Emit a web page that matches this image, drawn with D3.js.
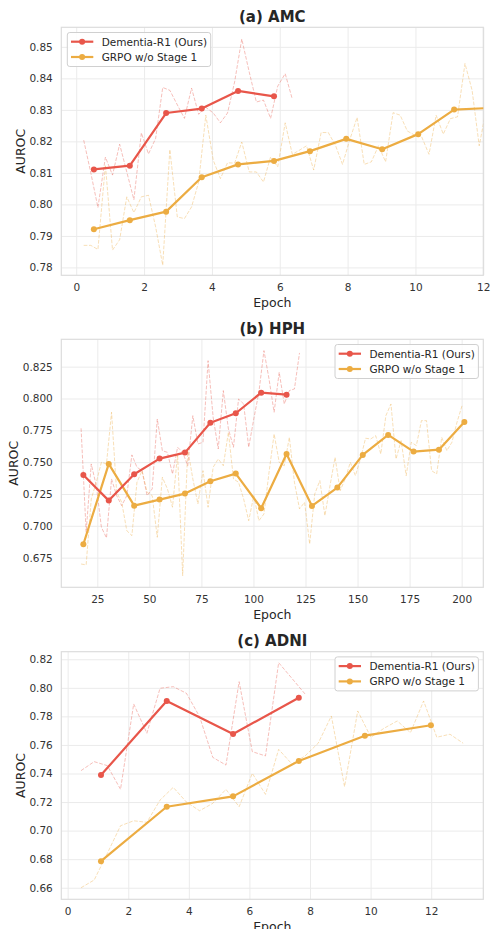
<!DOCTYPE html>
<html><head><meta charset="utf-8">
<script src="https://cdn.jsdelivr.net/npm/d3@7"></script>
<style>html,body{margin:0;padding:0;background:#fff;}svg{display:block;font-family:"DejaVu Sans",sans-serif;}</style>
</head><body>
<script>
// ---------- DATA ----------
const seriesNames = ["Dementia-R1 (Ours)", "GRPO w/o Stage 1"];

// (a) AMC
const amcRawEpoch = [0.22,0.43,0.64,0.86,1.07,1.28,1.49,1.70,1.92,2.13,2.34,2.55,2.76,2.98,3.19,3.40,3.61,3.82,4.04,4.25,4.46,4.67,4.88,5.10,5.31,5.52,5.73,5.94,6.16,6.37,6.58,6.79,7.00,7.22,7.43,7.64,7.85,8.06,8.28,8.49,8.70,8.91,9.12,9.34,9.55,9.76,9.97,10.18,10.40,10.61,10.82,11.03,11.24,11.46,11.67,11.88,12.09];
const amcOursRaw = [0.8204,0.8100,0.7990,0.8150,0.8093,0.8191,0.8103,0.8015,0.8227,0.8160,0.8209,0.8371,0.8362,0.8316,0.8273,0.8369,0.8286,0.8308,0.8290,0.8259,0.8290,0.8389,0.8525,0.8420,0.8325,0.8331,0.8273,0.8375,0.8415,0.8334];
const amcGrpoRaw = [0.7870,0.7870,0.7857,0.8125,0.7855,0.7888,0.8024,0.7974,0.8024,0.8029,0.7929,0.7807,0.8174,0.7960,0.7955,0.7992,0.8071,0.8283,0.8140,0.8082,0.8132,0.8131,0.8198,0.8103,0.8103,0.8071,0.8151,0.8119,0.8259,0.8159,0.8172,0.8186,0.8109,0.8228,0.8228,0.8188,0.8127,0.8204,0.8276,0.8127,0.8135,0.8186,0.8135,0.8291,0.8283,0.8233,0.8220,0.8215,0.8159,0.8283,0.8223,0.8272,0.8278,0.8447,0.8362,0.8186,0.8305];
const amcSmoothEpoch = [0.52,1.58,2.65,3.70,4.77,5.83,6.89,7.96,9.02,10.08,11.14,12.20];
const amcOursSmooth = [0.8111,0.8123,0.8290,0.8304,0.8360,0.8343];
const amcGrpoSmooth = [0.7921,0.7950,0.7977,0.8086,0.8127,0.8138,0.8169,0.8208,0.8175,0.8223,0.8301,0.8306];
const amcXTicks = [0,2,4,6,8,10,12];
const amcYTicks = [0.78,0.79,0.80,0.81,0.82,0.83,0.84,0.85];

// (b) HPH
const hphRawEpoch = [17.2,19.64,22.08,24.52,26.96,29.4,31.84,34.28,36.72,39.16,41.6,44.04,46.48,48.92,51.36,53.8,56.24,58.68,61.12,63.56,66.0,68.44,70.88,73.32,75.76,78.2,80.64,83.08,85.52,87.96,90.4,92.84,95.28,97.72,100.16,102.6,105.04,107.48,109.92,112.36,114.8,117.24,119.68,122.12,124.56,127.0,129.44,131.88,134.32,136.76,139.2,141.64,144.08,146.52,148.96,151.4,153.84,156.28,158.72,161.16,163.6,166.04,168.48,170.92,173.36,175.8,178.24,180.68,183.12,185.56,188.0,190.44,192.88,195.32,197.76,200.2];
const hphOursRaw = [0.7766,0.6950,0.7486,0.7315,0.6989,0.6905,0.7368,0.7237,0.7158,0.7237,0.7557,0.7460,0.7433,0.7237,0.7290,0.7839,0.7590,0.7577,0.7407,0.7617,0.7577,0.7472,0.7865,0.7643,0.7656,0.8297,0.7852,0.7604,0.8062,0.7761,0.7617,0.7996,0.7957,0.7617,0.7839,0.8049,0.8376,0.8153,0.7892,0.8206,0.7957,0.8062,0.8075,0.8358];
const hphGrpoRaw = [0.6700,0.6693,0.7211,0.7342,0.7499,0.7486,0.7892,0.7264,0.7185,0.6962,0.6923,0.7342,0.7433,0.7264,0.7237,0.6910,0.7381,0.7290,0.7146,0.7564,0.6609,0.7604,0.7368,0.7172,0.7433,0.7146,0.7460,0.7525,0.7472,0.7735,0.7368,0.7342,0.7211,0.7040,0.7237,0.7040,0.7093,0.7420,0.7721,0.7499,0.7472,0.7695,0.7342,0.7133,0.7185,0.6857,0.7250,0.7355,0.7080,0.7315,0.7538,0.7276,0.7368,0.7499,0.7394,0.7525,0.7688,0.7682,0.7708,0.7564,0.7865,0.7957,0.7525,0.7669,0.7394,0.7656,0.7630,0.7826,0.7826,0.7433,0.7407,0.7695,0.7590,0.7656,0.7813,0.7944];
const hphSmoothEpoch = [18.3,30.5,42.7,54.9,67.1,79.3,91.5,103.7,115.9,128.1,140.3,152.5,164.7,176.9,189.1,201.3];
const hphOursSmooth = [0.7399,0.7198,0.7405,0.7528,0.7575,0.7810,0.7884,0.8046,0.8030];
const hphGrpoSmooth = [0.6855,0.7486,0.7158,0.7206,0.7253,0.7350,0.7410,0.7138,0.7564,0.7156,0.7300,0.7557,0.7714,0.7583,0.7598,0.7816];
const hphXTicks = [25,50,75,100,125,150,175,200];
const hphYTicks = [0.675,0.700,0.725,0.750,0.775,0.800,0.825];

// (c) ADNI
const adniRawEpoch = [0.44,0.875,1.31,1.745,2.18,2.615,3.05,3.485,3.92,4.355,4.79,5.225,5.66,6.095,6.53,6.965,7.40,7.835,8.27,8.705,9.14,9.575,10.01,10.445,10.88,11.315,11.75,12.185,12.62,13.055];
const adniOursRaw = [0.7420,0.7483,0.7455,0.7289,0.7887,0.7682,0.7997,0.8008,0.7962,0.7798,0.7513,0.7459,0.8043,0.7553,0.7523,0.8176,0.8067,0.7957];
const adniGrpoRaw = [0.6600,0.6654,0.6841,0.7034,0.7069,0.7058,0.7214,0.7303,0.7200,0.7139,0.7191,0.7289,0.7167,0.7401,0.7254,0.7569,0.7467,0.7523,0.7612,0.7803,0.7308,0.7838,0.7654,0.7717,0.7768,0.7686,0.7908,0.7654,0.7675,0.7612];
const adniSmoothEpoch = [1.10,3.27,5.46,7.63,9.81,11.99];
const adniOursSmooth = [0.7389,0.7908,0.7677,0.7931];
const adniGrpoSmooth = [0.6786,0.7167,0.7240,0.7488,0.7665,0.7738];
const adniXTicks = [0,2,4,6,8,10,12];
const adniYTicks = [0.66,0.68,0.70,0.72,0.74,0.76,0.78,0.80,0.82];

// ---------- STYLE / LAYOUT ----------
const COLORS = ["#e8564a", "#ecac42"];
const W = 492, H = 929;
const LEFT = 61.3, RIGHT = 483.3;

const panels = [
  {title:"(a) AMC", top:27.3, bottom:275.3, xd:[-0.44,12.0], yd:[0.7775,0.8562], xt:amcXTicks, yt:amcYTicks, yfmt:".2f", legend:"left",
   rawX:amcRawEpoch, raw:[amcOursRaw, amcGrpoRaw], smX:amcSmoothEpoch, sm:[amcOursSmooth, amcGrpoSmooth], ylabX:24.5},
  {title:"(b) HPH", top:339.3, bottom:587.3, xd:[7.7,210.4], yd:[0.6517,0.8465], xt:hphXTicks, yt:hphYTicks, yfmt:".3f", legend:"right",
   rawX:hphRawEpoch, raw:[hphOursRaw, hphGrpoRaw], smX:hphSmoothEpoch, sm:[hphOursSmooth, hphGrpoSmooth], ylabX:17.5},
  {title:"(c) ADNI", top:651.7, bottom:899.3, xd:[-0.21,13.72], yd:[0.6519,0.8253], xt:adniXTicks, yt:adniYTicks, yfmt:".2f", legend:"right",
   rawX:adniRawEpoch, raw:[adniOursRaw, adniGrpoRaw], smX:adniSmoothEpoch, sm:[adniOursSmooth, adniGrpoSmooth], ylabX:24.5}
];

const svg = d3.select("body").append("svg").attr("width", W).attr("height", H);
svg.append("rect").attr("width", W).attr("height", H).attr("fill", "#fff");

panels.forEach((p, pi) => {
  const x = d3.scaleLinear().domain(p.xd).range([LEFT, RIGHT]);
  const y = d3.scaleLinear().domain(p.yd).range([p.bottom, p.top]);
  const g = svg.append("g");
  const clipId = "clip" + pi;
  svg.append("clipPath").attr("id", clipId).append("rect")
    .attr("x", LEFT).attr("y", p.top).attr("width", RIGHT - LEFT).attr("height", p.bottom - p.top);

  // grid via axes
  const gx = g.append("g").attr("transform", `translate(0,${p.bottom})`)
    .call(d3.axisBottom(x).tickValues(p.xt).tickSize(-(p.bottom - p.top)).tickPadding(8.5).tickFormat(d3.format("d")));
  const gy = g.append("g").attr("transform", `translate(${LEFT},0)`)
    .call(d3.axisLeft(y).tickValues(p.yt).tickSize(-(RIGHT - LEFT)).tickPadding(8.5).tickFormat(d3.format(p.yfmt)));
  [gx, gy].forEach(a => {
    a.select(".domain").remove();
    a.selectAll(".tick line").attr("stroke", "#ebebeb").attr("stroke-width", 1);
    a.selectAll(".tick text").attr("fill", "#333").attr("font-size", "10.5px").attr("font-family", "DejaVu Sans");
  });

  // frame
  g.append("rect").attr("x", LEFT).attr("y", p.top).attr("width", RIGHT - LEFT).attr("height", p.bottom - p.top)
    .attr("fill", "none").attr("stroke", "#dcdcdc").attr("stroke-width", 1.2);

  const plot = g.append("g").attr("clip-path", `url(#${clipId})`);

  // raw dashed
  p.raw.forEach((vals, si) => {
    const line = d3.line().x((d, i) => x(p.rawX[i])).y(d => y(d));
    plot.append("path").datum(vals).attr("d", line)
      .attr("fill", "none").attr("stroke", COLORS[si]).attr("stroke-opacity", 0.38)
      .attr("stroke-width", 1).attr("stroke-dasharray", "3.7,1.6");
  });
  // smoothed solid (draw GRPO first, Ours on top)
  [1, 0].forEach(si => {
    const vals = p.sm[si];
    const line = d3.line().x((d, i) => x(p.smX[i])).y(d => y(d));
    plot.append("path").datum(vals).attr("d", line)
      .attr("fill", "none").attr("stroke", COLORS[si]).attr("stroke-width", 2.2).attr("stroke-linejoin", "round");
    plot.selectAll(null).data(vals).enter().append("circle")
      .attr("cx", (d, i) => x(p.smX[i])).attr("cy", d => y(d)).attr("r", 3)
      .attr("fill", COLORS[si]);
  });

  // title
  g.append("text").attr("x", (LEFT + RIGHT) / 2).attr("y", p.top - 5.5)
    .attr("text-anchor", "middle").attr("font-size", "15px").attr("font-weight", "bold").attr("fill", "#262626")
    .text(p.title);
  // axis labels
  g.append("text").attr("x", (LEFT + RIGHT) / 2).attr("y", p.bottom + 32)
    .attr("text-anchor", "middle").attr("font-size", "12.5px").attr("fill", "#262626").text("Epoch");
  g.append("text").attr("transform", `translate(${p.ylabX},${(p.top + p.bottom) / 2}) rotate(-90)`)
    .attr("text-anchor", "middle").attr("font-size", "12.5px").attr("fill", "#262626").text("AUROC");

  // legend
  const lw = 143.4, lh = 34;
  const lx = p.legend === "left" ? 67.3 : 335;
  const ly = p.top + 5.2;
  const lg = g.append("g").attr("transform", `translate(${lx},${ly})`);
  lg.append("rect").attr("width", lw).attr("height", lh).attr("rx", 2.5)
    .attr("fill", "#fff").attr("fill-opacity", 0.85).attr("stroke", "#d0d0d0").attr("stroke-width", 1);
  seriesNames.forEach((name, si) => {
    const ry = 9.2 + si * 15.3;
    lg.append("line").attr("x1", 3.7).attr("x2", 26).attr("y1", ry).attr("y2", ry)
      .attr("stroke", COLORS[si]).attr("stroke-width", 2.2);
    lg.append("circle").attr("cx", 14.8).attr("cy", ry).attr("r", 3).attr("fill", COLORS[si]);
    lg.append("text").attr("x", 34.4).attr("y", ry + 3.8).attr("font-size", "10.5px").attr("fill", "#262626").text(name);
  });
});
</script>
</body></html>
